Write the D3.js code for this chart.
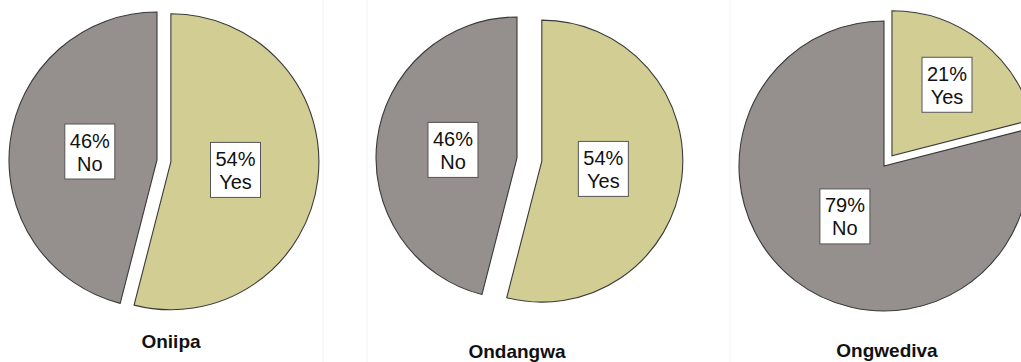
<!DOCTYPE html>
<html>
<head>
<meta charset="utf-8">
<script src="https://cdn.jsdelivr.net/npm/d3@7"></script>
<style>
  html, body { margin: 0; padding: 0; background: #fff; }
  svg { display: block; }
</style>
</head>
<body>
<svg id="chart" width="1021" height="362"></svg>
<script>
// data
const towns = ['Oniipa', 'Ondangwa', 'Ongwediva'];
const categories = ['Yes', 'No'];
const yesPct = [54, 54, 21];
const noPct = [46, 46, 79];

// layout, one entry per panel
const centers = [[157, 160], [517, 158], [884, 166]];
const radii = [148, 141, 145];
const explode = [14, 25, 13];      // only the "Yes" slice is pulled out
const titlePos = [[171, 348], [517, 358], [887, 357]];
const separators = [323, 367, 730];

const colors = { Yes: '#d2cd93', No: '#958f8e' };
const fontFamily = 'Arial, "Liberation Sans", Helvetica, sans-serif';

const svg = d3.select('#chart');

// faint panel borders
svg.selectAll('.sep')
  .data(separators)
  .join('line')
    .attr('class', 'sep')
    .attr('x1', d => d).attr('x2', d => d)
    .attr('y1', 0).attr('y2', 362)
    .attr('stroke', '#f3f3f3')
    .attr('stroke-width', 1);

const pie = d3.pie().sort(null).value(d => d.value);

towns.forEach((town, i) => {
  const r = radii[i];
  const slices = pie(categories.map(c => ({ cat: c, value: c === 'Yes' ? yesPct[i] : noPct[i] })));
  const arc = d3.arc().innerRadius(0).outerRadius(r);

  const g = svg.append('g')
    .attr('transform', `translate(${centers[i][0]}, ${centers[i][1]})`);

  const offset = d => {
    const mid = (d.startAngle + d.endAngle) / 2;
    const dist = d.data.cat === 'Yes' ? explode[i] : 0;
    return [Math.sin(mid) * dist, -Math.cos(mid) * dist];
  };

  const sliceG = g.selectAll('.slice')
    .data(slices)
    .join('g')
      .attr('class', 'slice')
      .attr('transform', d => `translate(${offset(d)})`);

  sliceG.append('path')
    .attr('d', arc)
    .attr('fill', d => colors[d.data.cat])
    .attr('stroke', '#3a3a3a')
    .attr('stroke-width', 1.1)
    .attr('stroke-linejoin', 'miter');

  // label sits near the centroid of the sector area
  const labelPos = d => {
    const half = (d.endAngle - d.startAngle) / 2;
    const k = Math.max(0.44, 2 * Math.sin(half) / (3 * half));
    const mid = (d.startAngle + d.endAngle) / 2;
    return [Math.sin(mid) * r * k, -Math.cos(mid) * r * k];
  };

  const lab = sliceG.append('g')
    .attr('transform', d => `translate(${labelPos(d)})`);

  const boxW = 50, boxH = 55;
  lab.append('rect')
    .attr('x', -boxW / 2).attr('y', -boxH / 2)
    .attr('width', boxW).attr('height', boxH)
    .attr('fill', '#fff')
    .attr('stroke', '#555')
    .attr('stroke-width', 1);

  const txt = lab.append('text')
    .attr('text-anchor', 'middle')
    .style('font-family', fontFamily)
    .style('font-size', '20px')
    .attr('fill', '#111');
  txt.append('tspan').attr('x', 0).attr('y', -4).text(d => `${d.data.value}%`);
  txt.append('tspan').attr('x', 0).attr('y', 19).text(d => d.data.cat);

  svg.append('text')
    .attr('x', titlePos[i][0])
    .attr('y', titlePos[i][1])
    .attr('text-anchor', 'middle')
    .style('font-family', fontFamily)
    .style('font-size', '19px')
    .style('font-weight', 'bold')
    .attr('fill', '#111')
    .text(town);
});
</script>
</body>
</html>
